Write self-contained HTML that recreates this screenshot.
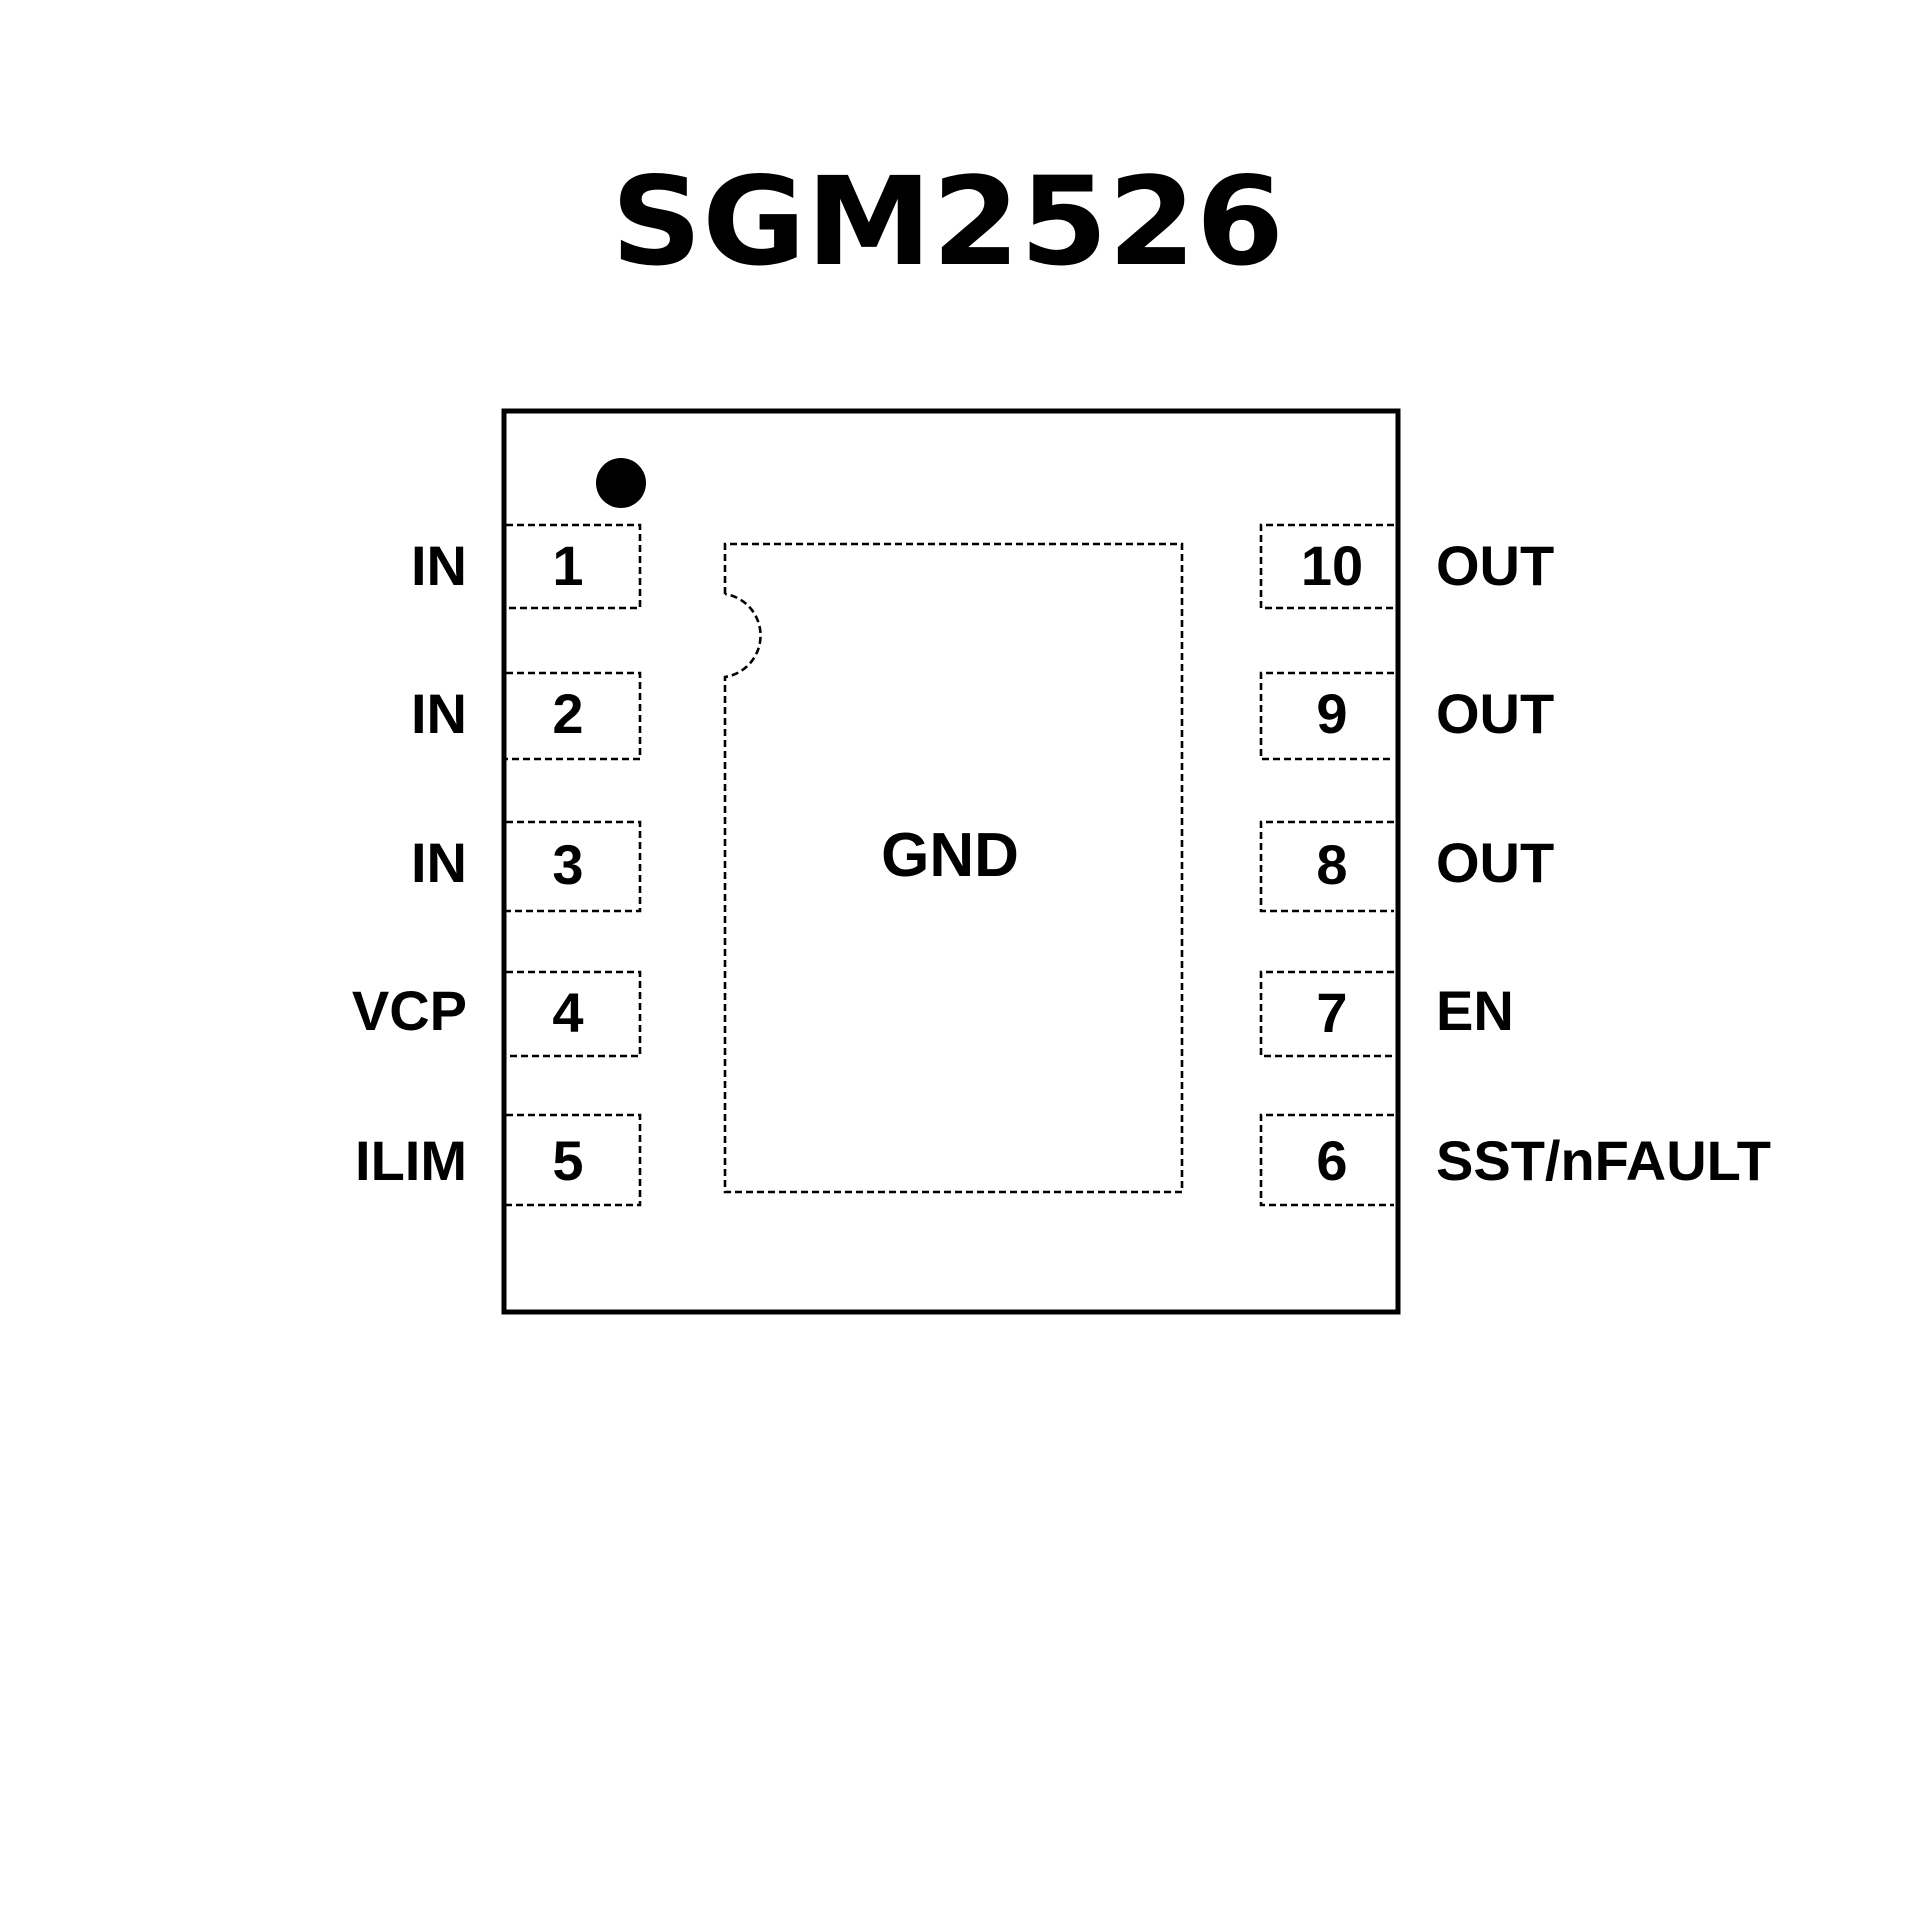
<!DOCTYPE html>
<html><head><meta charset="utf-8"><style>
html,body{margin:0;padding:0;background:#fff;width:1920px;height:1920px;overflow:hidden}
svg{display:block}
</style></head><body>
<svg width="1920" height="1920" viewBox="0 0 1920 1920" xmlns="http://www.w3.org/2000/svg">
<rect width="1920" height="1920" fill="#fff"/>
<text x="611" y="264" textLength="673" lengthAdjust="spacingAndGlyphs" font-family="'DejaVu Sans',sans-serif" font-weight="bold" font-size="122" fill="#000">SGM2526</text>
<rect x="504" y="411" width="894" height="901" fill="none" stroke="#000" stroke-width="5"/>
<circle cx="621" cy="483" r="25" fill="#000"/>
<g fill="none" stroke="#000" stroke-width="2.6" stroke-dasharray="7,4">
<path d="M506 525 H640 V608 H506"/>
<path d="M506 673 H640 V759 H506"/>
<path d="M506 822 H640 V911 H506"/>
<path d="M506 972 H640 V1056 H506"/>
<path d="M506 1115 H640 V1205 H506"/>
<path d="M1394 525 H1261 V608 H1394"/>
<path d="M1394 673 H1261 V759 H1394"/>
<path d="M1394 822 H1261 V911 H1394"/>
<path d="M1394 972 H1261 V1056 H1394"/>
<path d="M1394 1115 H1261 V1205 H1394"/>
<path d="M725 594 V544 H1182 V1192 H725 V677 A42 42 0 0 0 725 594"/>
</g>
<g font-family="'Liberation Sans',Arial,sans-serif" font-weight="bold" font-size="56" fill="#000">
<g text-anchor="middle">
<text x="568" y="585">1</text>
<text x="568" y="733">2</text>
<text x="568" y="884">3</text>
<text x="568" y="1032">4</text>
<text x="568" y="1180">5</text>
<text x="1332" y="585">10</text>
<text x="1332" y="733">9</text>
<text x="1332" y="884">8</text>
<text x="1332" y="1032">7</text>
<text x="1332" y="1180">6</text>
<text x="950" y="876" font-size="62">GND</text>
</g>
<g text-anchor="end">
<text x="467" y="585">IN</text>
<text x="467" y="733">IN</text>
<text x="467" y="882">IN</text>
<text x="467" y="1030">VCP</text>
<text x="467" y="1180">ILIM</text>
</g>
<text x="1436" y="585">OUT</text>
<text x="1436" y="733">OUT</text>
<text x="1436" y="882">OUT</text>
<text x="1436" y="1030">EN</text>
<text x="1436" y="1180">SST/nFAULT</text>
</g>
</svg>
</body></html>
